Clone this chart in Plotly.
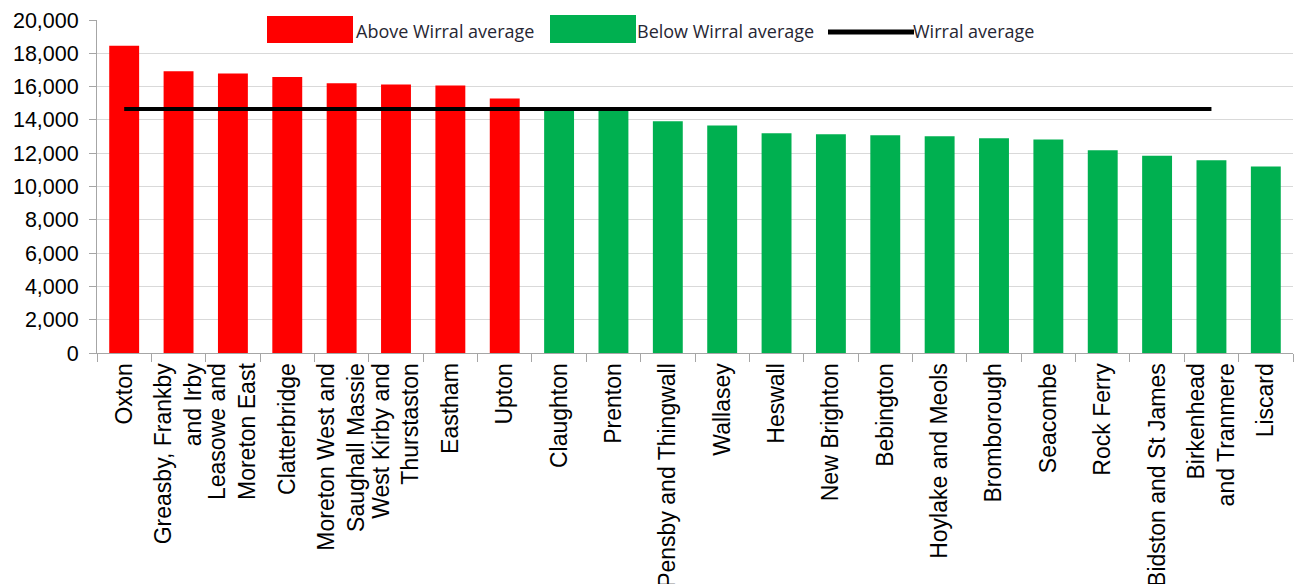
import plotly.graph_objects as go

categories = [
    "Oxton", "Greasby, Frankby<br>and Irby", "Leasowe and<br>Moreton East", "Clatterbridge",
    "Moreton West and<br>Saughall Massie", "West Kirby and<br>Thurstaston", "Eastham", "Upton",
    "Claughton", "Prenton", "Pensby and Thingwall", "Wallasey", "Heswall", "New Brighton",
    "Bebington", "Hoylake and Meols", "Bromborough", "Seacombe", "Rock Ferry",
    "Bidston and St James", "Birkenhead<br>and Tranmere", "Liscard",
]
values = [
    18450, 16920, 16780, 16580, 16200, 16120, 16060, 15280,
    14600, 14580, 13920, 13660, 13200, 13140, 13080, 13020, 12900, 12820, 12180,
    11840, 11580, 11200,
]
wirral_average = 14660
avg_line_categories = categories[:21]
avg_line_values = [wirral_average] * len(avg_line_categories)

y_tickvals = [0, 2000, 4000, 6000, 8000, 10000, 12000, 14000, 16000, 18000, 20000]
y_ticktext = ["0", "2,000", "4,000", "6,000", "8,000", "10,000", "12,000", "14,000", "16,000", "18,000", "20,000"]

legend_labels = ["Above Wirral average", "Below Wirral average", "Wirral average"]

RED = "#FF0000"
GREEN = "#00B050"

above_x = [c for c, v in zip(categories, values) if v > wirral_average]
above_y = [v for v in values if v > wirral_average]
below_x = [c for c, v in zip(categories, values) if v <= wirral_average]
below_y = [v for v in values if v <= wirral_average]

fig = go.Figure()
fig.add_trace(go.Bar(x=above_x, y=above_y, marker=dict(color=RED, line=dict(width=0)),
                     width=0.55, name=legend_labels[0], showlegend=False))
fig.add_trace(go.Bar(x=below_x, y=below_y, marker=dict(color=GREEN, line=dict(width=0)),
                     width=0.55, name=legend_labels[1], showlegend=False))
fig.add_trace(go.Scatter(x=avg_line_categories, y=avg_line_values, mode="lines",
                         line=dict(color="black", width=4), name=legend_labels[2], showlegend=False))

W, H = 1295, 584
ML, MR, MT, MB = 97, 2, 20, 231
PW, PH = W - ML - MR, H - MT - MB


def px(xp):
    return (xp - ML) / PW


def py(yp):
    return (H - MB - yp) / PH


shapes = [
    dict(type="rect", xref="paper", yref="paper", x0=px(265), x1=px(1045), y0=py(46), y1=py(6),
         fillcolor="white", line=dict(width=0), layer="above"),
    dict(type="rect", xref="paper", yref="paper", x0=px(267), x1=px(353), y0=py(43), y1=py(16),
         fillcolor=RED, line=dict(width=0), layer="above"),
    dict(type="rect", xref="paper", yref="paper", x0=px(550), x1=px(636), y0=py(43), y1=py(15),
         fillcolor=GREEN, line=dict(width=0), layer="above"),
    dict(type="line", xref="paper", yref="paper", x0=px(828), x1=px(914), y0=py(32), y1=py(32),
         line=dict(color="black", width=5), layer="above"),
]
legend_font = dict(family="Open Sans", size=18, color="#262633")
annotations = [
    dict(text=legend_labels[0], xref="paper", yref="paper", x=px(354), y=py(31), xanchor="left",
         yanchor="middle", showarrow=False, font=legend_font),
    dict(text=legend_labels[1], xref="paper", yref="paper", x=px(635), y=py(31), xanchor="left",
         yanchor="middle", showarrow=False, font=legend_font),
    dict(text=legend_labels[2], xref="paper", yref="paper", x=px(911), y=py(31), xanchor="left",
         yanchor="middle", showarrow=False, font=legend_font),
]

fig.update_layout(
    width=W, height=H,
    margin=dict(l=ML, r=MR, t=MT, b=MB, autoexpand=False),
    plot_bgcolor="white", paper_bgcolor="white",
    barmode="overlay",
    showlegend=False,
    shapes=shapes,
    annotations=annotations,
    xaxis=dict(
        categoryorder="array", categoryarray=categories,
        tickangle=-90, tickfont=dict(family="Liberation Sans, Arial", size=23, color="black"),
        showline=True, linecolor="#A6A6A6", linewidth=1,
        ticks="outside", tickson="boundaries", ticklen=8, tickcolor="#A6A6A6",
        showgrid=False, automargin=False, range=[-0.5, 21.5],
    ),
    yaxis=dict(
        range=[0, 20000], tickvals=y_tickvals, ticktext=y_ticktext,
        tickfont=dict(family="Liberation Sans, Arial", size=21.5, color="black"),
        showline=True, linecolor="#A6A6A6", linewidth=1,
        ticks="outside", ticklen=7, tickcolor="#A6A6A6",
        showgrid=True, gridcolor="#D9D9D9", gridwidth=1,
        zeroline=False, automargin=False, ticklabelstandoff=6,
    ),
)

fig.write_html("out.html")
